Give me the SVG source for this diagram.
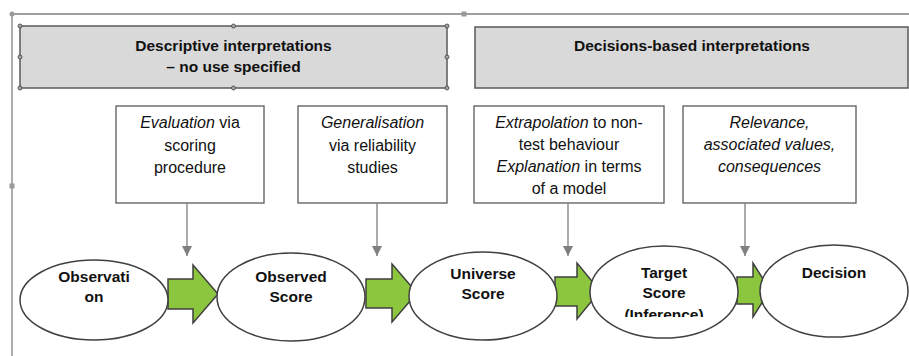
<svg xmlns="http://www.w3.org/2000/svg" width="909" height="356" viewBox="0 0 909 356">
<style>
.hdr{fill:#d9d9d9;stroke:#5a5a5a;stroke-width:1.5}
.hb{font-family:"Liberation Sans",Arial,sans-serif;font-weight:bold;font-size:15.5px;fill:#111;text-anchor:middle}
.box{fill:#fff;stroke:#595959;stroke-width:1.3}
.bt{font-family:"Liberation Sans",Arial,sans-serif;font-size:16px;fill:#111;text-anchor:middle}
.it{font-style:italic}
.ell{fill:#fff;stroke:#404040;stroke-width:1.5}
.et{font-family:"Liberation Sans",Arial,sans-serif;font-weight:bold;font-size:15.5px;fill:#111;text-anchor:middle}
.ga{fill:#8cc63f;stroke:#3f3f3f;stroke-width:1.5;stroke-linejoin:miter}
.conn{stroke:#7f7f7f;stroke-width:1.3;fill:none}
.frame{stroke:#7f7f7f;stroke-width:1.3;fill:none}
.hd{fill:#a6a6a6;stroke:#404040;stroke-width:0.8}
</style>
<defs>
<marker id="ah" viewBox="0 0 10 10" refX="10" refY="5" markerWidth="10" markerHeight="10" markerUnits="userSpaceOnUse" orient="auto">
<path d="M0,0 L10,5 L0,10 Z" fill="#7f7f7f"/>
</marker>
<clipPath id="clipInf"><rect x="590" y="240" width="150" height="77"/></clipPath>
</defs>

<g id="frame">
<line class="frame" x1="12" y1="14" x2="909" y2="14"/>
<line class="frame" x1="12" y1="14" x2="12" y2="356"/>
<circle cx="12" cy="14" r="2.5" fill="#9a9a9a"/>
<rect x="461.5" y="11.5" width="5" height="5" fill="#9a9a9a"/>
<rect x="9.5" y="183.5" width="5" height="5" fill="#9a9a9a"/>
</g>

<g id="header-descriptive">
<rect class="hdr" x="20" y="26" width="427" height="62"/>
<circle class="hd" cx="20" cy="26" r="2"/>
<circle class="hd" cx="233.5" cy="26" r="2"/>
<circle class="hd" cx="447" cy="26" r="2"/>
<circle class="hd" cx="20" cy="57" r="2"/>
<circle class="hd" cx="447" cy="57" r="2"/>
<circle class="hd" cx="20" cy="88" r="2"/>
<circle class="hd" cx="233.5" cy="88" r="2"/>
<circle class="hd" cx="447" cy="88" r="2"/>
<text class="hb" x="233.5" y="51">Descriptive interpretations</text>
<text class="hb" x="233.5" y="72">– no use specified</text>
</g>

<g id="header-decisions">
<rect class="hdr" x="475" y="27" width="433" height="61"/>
<text class="hb" x="692" y="51">Decisions-based interpretations</text>
</g>

<g id="box-evaluation">
<rect class="box" x="116" y="106" width="148" height="97"/>
<text class="bt" x="190" y="128"><tspan class="it">Evaluation</tspan> via</text>
<text class="bt" x="190" y="151">scoring</text>
<text class="bt" x="190" y="173">procedure</text>
</g>

<g id="box-generalisation">
<rect class="box" x="298" y="106" width="149" height="97"/>
<text class="bt" x="372.5" y="128"><tspan class="it">Generalisation</tspan></text>
<text class="bt" x="372.5" y="151">via reliability</text>
<text class="bt" x="372.5" y="173">studies</text>
</g>

<g id="box-extrapolation">
<rect class="box" x="474" y="106" width="190" height="97"/>
<text class="bt" x="569" y="128"><tspan class="it">Extrapolation</tspan> to non-</text>
<text class="bt" x="569" y="150">test behaviour</text>
<text class="bt" x="569" y="172"><tspan class="it">Explanation</tspan> in terms</text>
<text class="bt" x="569" y="194">of a model</text>
</g>

<g id="box-relevance">
<rect class="box" x="683" y="106" width="173" height="97"/>
<text class="bt it" x="769.5" y="128">Relevance,</text>
<text class="bt it" x="769.5" y="150">associated values,</text>
<text class="bt it" x="769.5" y="172">consequences</text>
</g>

<g id="connectors">
<line class="conn" x1="187" y1="203" x2="187" y2="256" marker-end="url(#ah)"/>
<line class="conn" x1="377" y1="203" x2="377" y2="256" marker-end="url(#ah)"/>
<line class="conn" x1="568" y1="203" x2="568" y2="256" marker-end="url(#ah)"/>
<line class="conn" x1="745" y1="203" x2="745" y2="256" marker-end="url(#ah)"/>
<path class="ga" d="M168,279 H193 V265 L218,294 L193,323 V309 H168 Z"/>
<path class="ga" d="M366,279 H392 V264 L417,293 L392,322 V308 H366 Z"/>
<path class="ga" d="M555,277 H577 V263 L600,291 L577,319 V306 H555 Z"/>
<path class="ga" d="M737,277 H753 V263 L770,290 L753,317 V304 H737 Z"/>
</g>

<g id="node-observation">
<ellipse class="ell" cx="94" cy="300" rx="74" ry="40"/>
<text class="et" x="94" y="282">Observati</text>
<text class="et" x="94" y="302">on</text>
</g>

<g id="node-observed-score">
<ellipse class="ell" cx="291" cy="297" rx="74" ry="44"/>
<text class="et" x="291" y="282">Observed</text>
<text class="et" x="291" y="302">Score</text>
</g>

<g id="node-universe-score">
<ellipse class="ell" cx="483" cy="296" rx="74" ry="44"/>
<text class="et" x="483" y="279">Universe</text>
<text class="et" x="483" y="299">Score</text>
</g>

<g id="node-target-score">
<ellipse class="ell" cx="664" cy="292" rx="74" ry="46"/>
<text class="et" x="664" y="278">Target</text>
<text class="et" x="664" y="298">Score</text>
<text class="et" x="664" y="320" clip-path="url(#clipInf)">(Inference)</text>
</g>

<g id="node-decision">
<ellipse class="ell" cx="834" cy="291" rx="74" ry="46"/>
<text class="et" x="834" y="278">Decision</text>
</g>
</svg>
